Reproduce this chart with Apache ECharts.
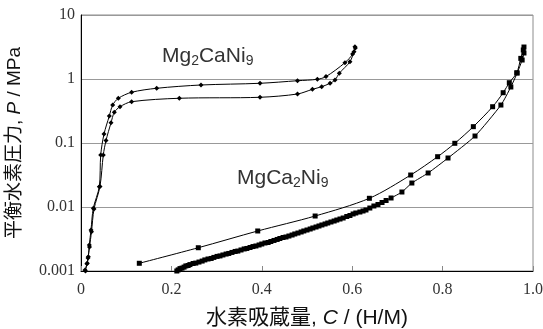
<!DOCTYPE html>
<html>
<head>
<meta charset="utf-8">
<script src="https://cdn.jsdelivr.net/npm/echarts@6/dist/echarts.min.js"></script>
<style>html,body{margin:0;padding:0;background:#fff}#c{width:543px;height:329px}</style>
</head>
<body>
<div id="c"></div>
<script>
// Mg2CaNi9 absorption (upper branch)
const mg2AbsC = [0.0088,0.0139,0.0162,0.0184,0.0221,0.0272,0.0405,0.0436,0.0509,0.0626,0.0701,0.0825,0.112,0.1675,0.2655,0.396,0.479,0.523,0.542,0.584,0.601,0.606];
const mg2AbsP = [0.00104,0.00132,0.00167,0.00255,0.00437,0.00955,0.0208,0.065,0.138,0.264,0.392,0.499,0.620,0.716,0.806,0.857,0.94,0.99,1.09,1.80,2.46,3.2];
// Mg2CaNi9 desorption (lower branch)
const mg2DesC = [0.010,0.013,0.0155,0.0188,0.0232,0.0288,0.042,0.0493,0.0553,0.0664,0.0737,0.0863,0.112,0.2175,0.396,0.479,0.512,0.5325,0.551,0.562,0.5715,0.595,0.604,0.607];
const mg2DesP = [0.00100,0.0013,0.0016,0.00237,0.0041,0.0093,0.021,0.065,0.109,0.207,0.302,0.369,0.442,0.50,0.518,0.583,0.69,0.758,0.857,0.965,1.23,1.86,2.67,3.05];
// MgCa2Ni9 absorption (upper branch)
const mgAbsC = [0.129,0.2595,0.391,0.518,0.638,0.7294,0.789,0.827,0.868,0.9107,0.934,0.9476,0.964,0.973,0.9785,0.980];
const mgAbsP = [0.00132,0.00231,0.00422,0.00723,0.01368,0.0316,0.0611,0.0989,0.180,0.369,0.611,0.875,1.25,2.10,2.84,3.16];
// MgCa2Ni9 desorption (lower branch, dense)
const mgDesC = [0.212,0.215,0.219,0.2235,0.228,0.232,0.237,0.241,0.248,0.254,0.261,0.268,0.274,0.281,0.288,0.294,0.301,0.3075,0.314,0.321,0.327,0.334,0.341,0.347,0.354,0.361,0.367,0.374,0.3805,0.387,0.394,0.400,0.407,0.414,0.420,0.427,0.434,0.440,0.447,0.4535,0.460,0.467,0.473,0.480,0.487,0.493,0.500,0.507,0.513,0.520,0.5265,0.533,0.540,0.546,0.553,0.560,0.566,0.573,0.580,0.588,0.595,0.602,0.608,0.617,0.624,0.6305,0.639,0.648,0.657,0.666,0.675,0.686,0.710,0.732,0.768,0.812,0.8717,0.929,0.951,0.965,0.976,0.980];
const mgDesP = [0.00100,0.00104,0.00109,0.00111,0.00115,0.00120,0.00122,0.00126,0.00131,0.00133,0.00138,0.00143,0.00149,0.00154,0.00157,0.00163,0.00169,0.00172,0.00178,0.00184,0.00188,0.00195,0.00202,0.00205,0.00213,0.00221,0.00225,0.00233,0.00241,0.00246,0.00255,0.00264,0.00274,0.00279,0.00289,0.00300,0.00311,0.00322,0.00334,0.00340,0.00352,0.00365,0.00379,0.00392,0.00407,0.00422,0.00437,0.00453,0.00470,0.00487,0.00505,0.00524,0.00543,0.00562,0.00583,0.00604,0.00626,0.00649,0.00673,0.00711,0.00736,0.00778,0.00806,0.00835,0.00866,0.00898,0.00964,0.01037,0.01094,0.01175,0.01264,0.01383,0.01715,0.0237,0.0340,0.0583,0.1286,0.392,0.750,1.24,1.98,2.55];

const xTicks = ['0','0.2','0.4','0.6','0.8','1.0'];
const yTicks = ['0.001','0.01','0.1','1','10'];

function pairs(a,b){return a.map((v,i)=>[v,b[i]]);}

const chart = echarts.init(document.getElementById('c'));
const serif = '"Liberation Serif", "DejaVu Serif", serif';
const sans = '"Liberation Sans", Arial, "Noto Sans CJK JP", sans-serif';
const mkRich = (fs) => ({
  a:{fontFamily:sans,fontSize:fs,color:'#111'},
  i:{fontFamily:sans,fontSize:fs,color:'#111',fontStyle:'italic'}
});
const lineSeries = (data, symbol, size, smooth) => ({
  type:'line', data, symbol, symbolSize:size, smooth,
  lineStyle:{color:'#000', width:1}, itemStyle:{color:'#000'}, showSymbol:true, animation:false, z:3
});
chart.setOption({
  animation:false,
  grid:{left:81,right:10,top:15,bottom:58,show:true,borderColor:'#8c8c8c',borderWidth:1,
    containLabel:false,outerBoundsMode:'none'},
  xAxis:{type:'value',min:0,max:1,interval:0.2,
    axisLine:{show:true,lineStyle:{color:'#000',width:1}},
    axisTick:{show:true,inside:true,length:5,lineStyle:{color:'#888'}},
    splitLine:{show:false},
    axisLabel:{fontFamily:serif,fontSize:16,color:'#333',margin:11,hideOverlap:false,
      formatter:(v)=>xTicks[Math.round(v/0.2)]},
    name:'{a|水素吸蔵量, }{i|C}{a| / (H/M)}',nameLocation:'middle',nameGap:37,
    nameTextStyle:{fontFamily:sans,fontSize:21,color:'#111',rich:mkRich(21)}
  },
  yAxis:{type:'log',logBase:10,min:0.001,max:10,
    axisLine:{show:true,lineStyle:{color:'#000',width:1}},
    axisTick:{show:false},
    splitLine:{show:true,lineStyle:{color:'#999',width:1}},
    axisLabel:{fontFamily:serif,fontSize:16,color:'#333',margin:6,
      formatter:(v)=>{const k=Math.round(Math.log10(v))+3;return yTicks[k];}},
    name:'{a|平衡水素圧力, }{i|P}{a| / MPa}',nameLocation:'middle',nameGap:57,
    nameTextStyle:{fontFamily:sans,fontSize:19,color:'#111',rich:mkRich(19)}
  },
  series:[
    lineSeries(pairs(mg2AbsC,mg2AbsP),'diamond',5,0.3),
    lineSeries(pairs(mg2DesC,mg2DesP),'diamond',5,0.3),
    lineSeries(pairs(mgAbsC,mgAbsP),'rect',5,0.3),
    lineSeries(pairs(mgDesC,mgDesP),'rect',5,0.2)
  ],
  graphic:[
    {type:'text',left:162,top:46,style:{text:'Mg{s|2}CaNi{s|9}',fontFamily:sans,fontSize:21,fill:'#333',
      rich:{s:{fontSize:14,fontFamily:sans,fill:'#333',verticalAlign:'bottom',padding:[10,0,0,0]}}}},
    {type:'text',left:237,top:168,style:{text:'MgCa{s|2}Ni{s|9}',fontFamily:sans,fontSize:21,fill:'#333',
      rich:{s:{fontSize:14,fontFamily:sans,fill:'#333',verticalAlign:'bottom',padding:[10,0,0,0]}}}}
  ]
});
</script>
</body>
</html>
